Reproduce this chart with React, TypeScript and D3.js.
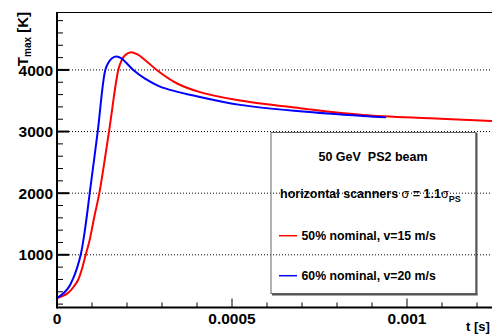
import React from "react";
import * as d3 from "d3";

const redT = [0, 1.71e-5, 2.86e-5, 3.71e-5, 4.86e-5, 6.09e-5, 7.23e-5, 8.2e-5, 9.29e-5, 1.071e-4, 1.209e-4, 1.486e-4, 1.751e-4, 1.843e-4, 1.943e-4, 2.114e-4, 2.286e-4, 2.514e-4, 2.849e-4, 3.42e-4, 4.086e-4, 5.229e-4, 6.943e-4, 8.743e-4, 1.0657e-3, 1.2571e-3];
const redK = [300, 335, 370, 410, 490, 600, 790, 1000, 1230, 1630, 2000, 3000, 4000, 4150, 4240, 4287, 4255, 4162, 4000, 3784, 3640, 3503, 3380, 3270, 3215, 3170];
const blueT = [0, 1.29e-5, 2.29e-5, 3.43e-5, 4.66e-5, 5.8e-5, 6.77e-5, 7.71e-5, 8.57e-5, 9.34e-5, 1.163e-4, 1.38e-4, 1.471e-4, 1.571e-4, 1.706e-4, 1.829e-4, 1.971e-4, 2.18e-4, 2.514e-4, 2.943e-4, 4.086e-4, 5.229e-4, 6.943e-4, 8.743e-4, 9.4e-4];
const blueK = [300, 350, 400, 480, 620, 800, 1000, 1300, 1650, 2000, 3000, 4000, 4120, 4190, 4216, 4190, 4120, 4000, 3860, 3730, 3560, 3433, 3330, 3254, 3233];

const xMajor = [0, 0.0005, 0.001];
const xMajorLabels = ["0", "0.0005", "0.001"];
const yMajor = [1000, 2000, 3000, 4000];
const yMajorLabels = ["1000", "2000", "3000", "4000"];

const legendTitle = "50 GeV\u00a0\u00a0PS2 beam";
const legendRed = "50% nominal, v=15 m/s";
const legendBlue = "60% nominal, v=20 m/s";

export default function App() {
  const left = 57, top = 12, bottom = 307.5, right = 500;
  const x = d3.scaleLinear().domain([0, 0.001]).range([left, left + 350]);
  const y = d3.scaleLinear().domain([145, 4940]).range([bottom, top]);
  const line = d3.line<[number, number]>().x(d => x(d[0])).y(d => y(d[1])).curve(d3.curveCatmullRom.alpha(0.5));
  const red = redT.map((t, i) => [t, redK[i]] as [number, number]);
  const blue = blueT.map((t, i) => [t, blueK[i]] as [number, number]);
  const yMinor = d3.range(200, 4900, 200).filter(v => v % 1000 !== 0);
  const xMinor = d3.range(1, 13).map(i => i * 0.0001).filter(v => Math.abs(v - 0.0005) > 1e-9 && Math.abs(v - 0.001) > 1e-9);
  const font = "Liberation Sans, Arial, Helvetica, sans-serif";
  return (
    <svg width={492} height={336} style={{ position: "absolute", left: 0, top: 0 }} fontFamily={font}>
      <rect x={0} y={0} width={492} height={336} fill="white" />
      <defs>
        <clipPath id="plot"><rect x={left} y={top} width={right - left} height={bottom - top} /></clipPath>
      </defs>
      {yMajor.map(v => (
        <line key={"g" + v} x1={left} x2={right} y1={y(v)} y2={y(v)} stroke="#000" strokeWidth={1} strokeDasharray="1,2" />
      ))}
      <g clipPath="url(#plot)">
        <path d={line(red) || ""} fill="none" stroke="#ff0000" strokeWidth={2} />
        <path d={line(blue) || ""} fill="none" stroke="#0000ff" strokeWidth={2} />
      </g>
      <line x1={left} x2={right} y1={top + 0.5} y2={top + 0.5} stroke="#000" strokeWidth={1} />
      <line x1={left} x2={left} y1={top} y2={bottom + 1} stroke="#000" strokeWidth={2} />
      <line x1={left} x2={right} y1={bottom} y2={bottom} stroke="#000" strokeWidth={2} />
      {yMajor.map(v => (
        <line key={"ym" + v} x1={left} x2={left + 12} y1={y(v)} y2={y(v)} stroke="#000" strokeWidth={2} />
      ))}
      {yMinor.map(v => (
        <line key={"yn" + v} x1={left} x2={left + 6} y1={y(v)} y2={y(v)} stroke="#000" strokeWidth={1} />
      ))}
      {xMajor.map(v => (
        <line key={"xm" + v} x1={x(v)} x2={x(v)} y1={bottom} y2={bottom - 9} stroke="#000" strokeWidth={1} />
      ))}
      {xMinor.map(v => (
        <line key={"xn" + v} x1={x(v)} x2={x(v)} y1={bottom} y2={bottom - 5} stroke="#000" strokeWidth={1} />
      ))}
      {yMajor.map((v, i) => (
        <text key={"yl" + v} x={53} y={y(v)} dy="0.36em" textAnchor="end" fontSize={15.5} fontWeight="bold">{yMajorLabels[i]}</text>
      ))}
      {xMajor.map((v, i) => (
        <text key={"xl" + v} x={x(v)} y={324} textAnchor="middle" fontSize={15.5} fontWeight="bold">{xMajorLabels[i]}</text>
      ))}
      <text x={466} y={331} fontSize={13} fontWeight="bold">t [s]</text>
      <text transform="translate(28,12) rotate(-90)" textAnchor="end" fontSize={15} fontWeight="bold">
        T<tspan fontSize={10} dy={3}>max</tspan><tspan dy={-3}> [K]</tspan>
      </text>
      <rect x={271} y={132.5} width={205} height={161} fill="none" stroke="#666" strokeWidth={1} />
      <line x1={476.5} x2={476.5} y1={133} y2={295} stroke="#555" strokeWidth={2} />
      <line x1={272} x2={477.5} y1={294.5} y2={294.5} stroke="#555" strokeWidth={2} />
      <text x={373} y={160.5} textAnchor="middle" fontSize={12.5} fontWeight="bold">{legendTitle}</text>
      <text x={280} y={197.5} fontSize={12.5} fontWeight="bold">
        horizontal scanners <tspan fontWeight="normal">σ</tspan> = 1.1<tspan fontWeight="normal">σ</tspan><tspan fontSize={9} dy={4}>PS</tspan>
      </text>
      <line x1={279} x2={297} y1={235.7} y2={235.7} stroke="#ff0000" strokeWidth={1.5} />
      <text x={301.5} y={240} fontSize={12.3} fontWeight="bold">{legendRed}</text>
      <line x1={279} x2={297} y1={275.7} y2={275.7} stroke="#0000ff" strokeWidth={1.5} />
      <text x={301.5} y={280} fontSize={12.3} fontWeight="bold">{legendBlue}</text>
    </svg>
  );
}
